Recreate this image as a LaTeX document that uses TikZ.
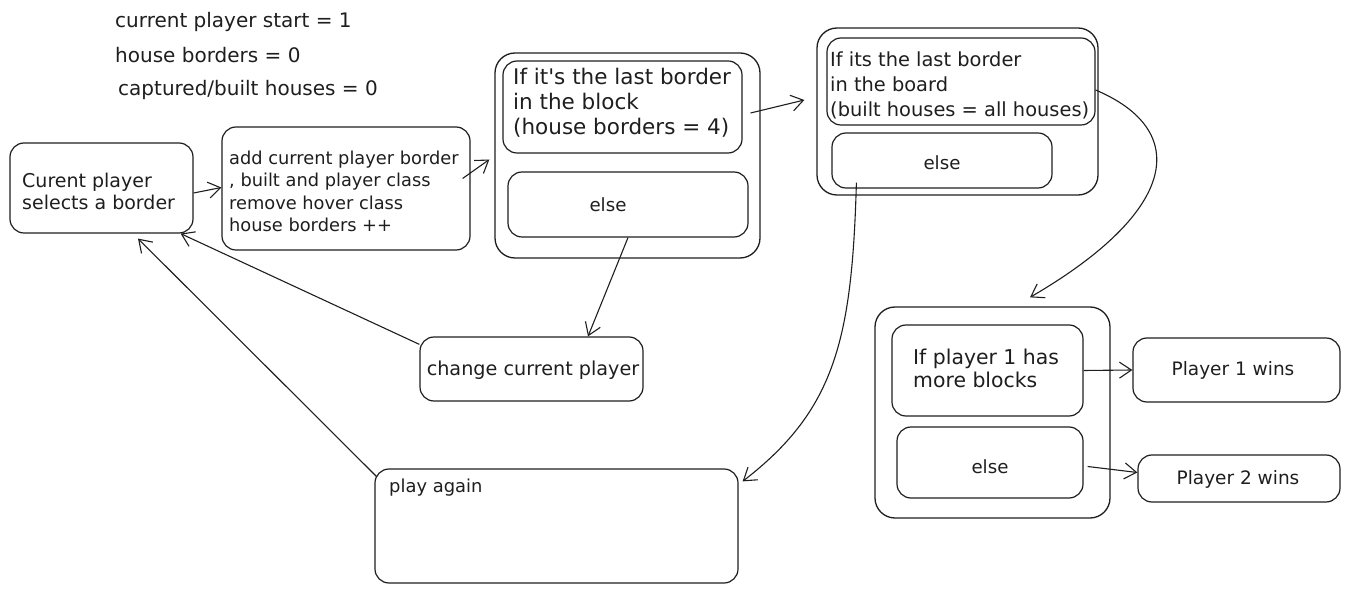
\documentclass[tikz,border=0pt]{standalone}
\usepackage{fontspec}
\setmainfont{DejaVu Sans}
\usetikzlibrary{arrows.meta}
\definecolor{ink}{HTML}{1E1E1E}
\tikzset{
  box/.style={draw=ink, line width=1.2pt, rounded corners=14pt, inner sep=0pt},
  grp/.style={draw=ink, line width=1.3pt, rounded corners=20pt, inner sep=0pt},
  txt/.style={text=ink, inner sep=0pt, align=left, anchor=west},
  ctxt/.style={text=ink, inner sep=0pt, align=center},
  conn/.style={draw=ink, line width=1.1pt, -{Straight Barb[length=12pt,width=16pt,line width=1.1pt]}},
}
\newcommand{\fs}[2]{\fontsize{#1}{#2}\selectfont}
\begin{document}
\begin{tikzpicture}[x=1pt,y=-1pt]
\useasboundingbox (0,0) rectangle (1350,593);
% header texts
\node[txt, font=\fs{20}{24}] (t1) at (115,22) {current player start = 1};
\node[txt, font=\fs{20}{24}] (t2) at (115,55) {house borders = 0};
\node[txt, font=\fs{20}{24}] (t3) at (118,90) {captured/built houses = 0};
% boxes
\node[box, minimum width=183pt, minimum height=90pt] (A) at (101.5,188) {};
\node[txt, font=\fs{19}{22}] (Atx) at (22,191) {Curent player\\selects a border};
\node[box, minimum width=248pt, minimum height=123pt] (B) at (346,188.5) {};
\node[txt, font=\fs{17.8}{22.5}] (Btx) at (229,191.5) {add current player border\\, built and player class\\remove hover class\\house borders ++};
% group C
\node[grp, minimum width=265pt, minimum height=205pt] (Cout) at (627.5,155.5) {};
\node[box, minimum width=239pt, minimum height=92pt] (Ctop) at (622.5,107) {};
\node[txt, font=\fs{21.5}{25}] (Ctx) at (513,103) {If it\textquotesingle s the last border\\in the block\\(house borders = 4)};
\node[box, minimum width=240pt, minimum height=65pt] (Celse) at (628,204.5) {};
\node[ctxt, font=\fs{18.2}{22}] (Cetx) at (608,205) {else};
% group D
\node[grp, minimum width=281pt, minimum height=167pt] (Dout) at (957.5,111.5) {};
\node[box, minimum width=268pt, minimum height=87pt] (Dtop) at (961,81.5) {};
\node[txt, font=\fs{19.4}{25}] (Dtx) at (830,85) {If its the last border\\in the board\\(built houses = all houses)};
\node[box, minimum width=220pt, minimum height=55pt] (Delse) at (942,160.5) {};
\node[ctxt, font=\fs{18.2}{22}] (Detx) at (942,163) {else};
% group E
\node[grp, minimum width=235pt, minimum height=211pt] (Eout) at (992.5,412.5) {};
\node[box, minimum width=191pt, minimum height=91pt] (Etop) at (987.5,370.5) {};
\node[txt, font=\fs{20.4}{23}] (Etx) at (913,368.5) {If player 1 has\\more blocks};
\node[box, minimum width=186pt, minimum height=71pt] (Eelse) at (990,462.5) {};
\node[ctxt, font=\fs{18.2}{22}] (Eetx) at (990,467) {else};
% results
\node[box, minimum width=207pt, minimum height=64pt] (P1) at (1236.5,370) {};
\node[ctxt, font=\fs{18.5}{22}] (P1tx) at (1233,370) {Player 1 wins};
\node[box, minimum width=202pt, minimum height=47pt] (P2) at (1239,478.5) {};
\node[ctxt, font=\fs{18.5}{22}] (P2tx) at (1238,479) {Player 2 wins};
% change and play again
\node[box, minimum width=223pt, minimum height=64pt] (Ch) at (531.5,369) {};
\node[ctxt, font=\fs{19.2}{22}] (Chtx) at (533,370) {change current player};
\node[box, minimum width=363pt, minimum height=114pt] (Pl) at (556.5,526) {};
\node[txt, font=\fs{17.9}{22}] (Pltx) at (389,488) {play again};
% connectors
\draw[conn] ([yshift=-5pt]A.east) -- ([yshift=1pt]B.west);
\draw[conn] ([xshift=-8pt,yshift=10pt]B.east) -- ([xshift=-5pt,yshift=-4pt]Cout.west);
\draw[conn] ([xshift=8pt,yshift=-6pt]Ctop.east) -- ([xshift=-12pt,yshift=11.5pt]Dout.west);
\draw[conn] ([yshift=-8.5pt]Dtop.east) .. controls (1190,130) and (1180,210) .. ([xshift=37.5pt,yshift=9pt]Eout.north);
\draw[conn] ([xshift=25pt,yshift=6pt]Delse.south west) .. controls (852,340) and (835,410) .. ([xshift=4pt,yshift=-13pt]Pl.north east);
\draw[conn] (Celse.south) -- ([xshift=56.5pt]Ch.north);
\draw[conn] ([yshift=-8pt]Ch.north west) -- ([xshift=-13pt]A.south east);
\draw[conn] ([xshift=2pt,yshift=-8pt]Pl.north west) -- ([xshift=36.5pt,yshift=-5pt]A.south);
\draw[conn] (Etop.east) -- (P1.west);
\draw[conn] ([xshift=4pt,yshift=-4pt]Eelse.east) -- ([yshift=6pt]P2.west);
\end{tikzpicture}
\end{document}
